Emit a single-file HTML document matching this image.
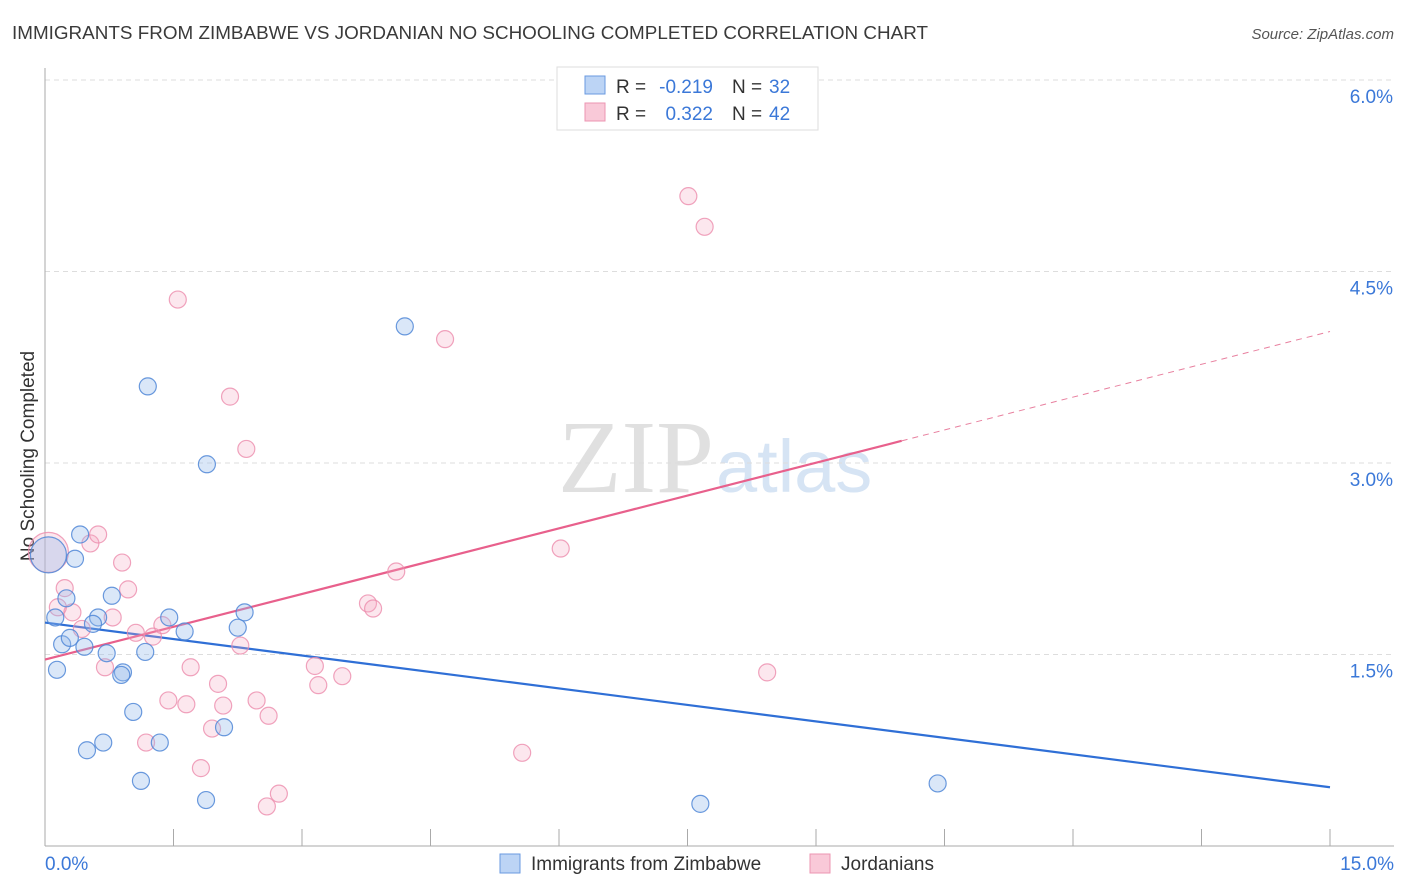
<!DOCTYPE html>
<html><head><meta charset="utf-8"><style>
body{margin:0;background:#fff;font-family:"Liberation Sans",sans-serif}
svg{display:block}
</style></head><body>
<svg id="chart" width="1406" height="892">
<text x="12" y="39" font-size="18" fill="#3a3a3a" textLength="916" lengthAdjust="spacingAndGlyphs">IMMIGRANTS FROM ZIMBABWE VS JORDANIAN NO SCHOOLING COMPLETED CORRELATION CHART</text>
<text x="1394" y="39" font-size="15" fill="#555" text-anchor="end" font-style="italic">Source: ZipAtlas.com</text>
<text x="714" y="492" font-size="104" fill="#e0e0e0" text-anchor="end" font-family="Liberation Serif">ZIP</text>
<text x="716" y="492" font-size="74" fill="#d6e4f4">atlas</text>
<text transform="translate(34,456) rotate(-90)" font-size="19" fill="#333" text-anchor="middle">No Schooling Completed</text>
<g id="grid"></g><g id="axes"></g><g id="lines"></g><g id="pts"></g>
<g>
<rect x="557" y="67" width="261" height="63" fill="#fff" stroke="#ddd"/>
<rect x="585" y="76" width="20" height="18" fill="#bcd4f5" stroke="#6a9ae0"/>
<rect x="585" y="103" width="20" height="18" fill="#f9c9d8" stroke="#ec95b2"/>
<text x="616" y="93" font-size="19" fill="#333">R =</text>
<text x="713" y="93" font-size="19" fill="#3b78d8" text-anchor="end">-0.219</text>
<text x="732" y="93" font-size="19" fill="#333">N =</text>
<text x="769" y="93" font-size="19" fill="#3b78d8">32</text>
<text x="616" y="120" font-size="19" fill="#333">R =</text>
<text x="713" y="120" font-size="19" fill="#3b78d8" text-anchor="end">0.322</text>
<text x="732" y="120" font-size="19" fill="#333">N =</text>
<text x="769" y="120" font-size="19" fill="#3b78d8">42</text>
</g>
<g>
<rect x="500" y="854" width="20" height="19" fill="#bcd4f5" stroke="#6a9ae0"/>
<text x="531" y="870" font-size="19" fill="#333">Immigrants from Zimbabwe</text>
<rect x="810" y="854" width="20" height="19" fill="#f9c9d8" stroke="#ec95b2"/>
<text x="841" y="870" font-size="19" fill="#333">Jordanians</text>
</g>
</svg>
<script>
const yTicks=[1.5,3.0,4.5,6.0];
const xTickLabels=["0.0%","15.0%"];
const blueX=[0.04,0.41,0.35,0.25,0.12,0.62,0.56,0.78,0.20,0.29,0.46,0.14,0.72,0.91,0.89,1.17,1.45,1.63,2.33,2.25,1.03,0.68,0.49,1.34,2.09,1.12,1.88,1.20,1.89,4.20,7.65,10.42];
const blueY=[2.28,2.44,2.25,1.94,1.79,1.79,1.74,1.96,1.58,1.63,1.56,1.38,1.51,1.36,1.34,1.52,1.79,1.68,1.83,1.71,1.05,0.81,0.75,0.81,0.93,0.51,0.36,3.60,2.99,4.07,0.33,0.49];
const pinkX=[0.04,0.53,0.62,0.90,0.23,0.97,0.32,0.15,0.79,0.43,1.06,1.26,1.37,0.70,1.70,1.44,1.65,2.02,2.08,1.95,2.28,2.47,2.61,1.18,1.82,2.73,2.59,1.55,2.16,2.35,3.15,3.19,3.47,3.77,3.83,4.10,4.67,6.02,5.57,8.43,7.51,7.70];
const pinkY=[2.30,2.37,2.44,2.22,2.02,2.01,1.83,1.87,1.79,1.70,1.67,1.64,1.73,1.40,1.40,1.14,1.11,1.27,1.10,0.92,1.57,1.14,1.02,0.81,0.61,0.41,0.31,4.28,3.52,3.11,1.41,1.26,1.33,1.90,1.86,2.15,3.97,2.33,0.73,1.36,5.09,4.85];
const blueTrend=[1.75,0.46];
const pinkTrend=[1.46,4.03];
const pinkSolidEnd=10.0;
const X0=45,X1=1330,Y0=846,PPU=127.67;
const sx=v=>X0+(X1-X0)*v/15, sy=v=>Y0-v*PPU;
const NS="http://www.w3.org/2000/svg";
function mk(t,a,p){const e=document.createElementNS(NS,t);for(const k in a)e.setAttribute(k,a[k]);document.getElementById(p).appendChild(e);return e;}
yTicks.forEach(t=>{
 const l=mk('line',{x1:X0,x2:1394,y1:sy(t),y2:sy(t),stroke:'#ddd','stroke-dasharray':'5,4'},'grid');
 
 
 const tx=mk('text',{x:1393,y:sy(t)+23,'font-size':19,fill:'#3b78d8','text-anchor':'end'},'grid');
 tx.textContent=t.toFixed(1)+'%';
 
 
});
const ax=mk('line',{x1:X0,x2:X0,y1:68,y2:Y0,stroke:'#aaa'},'axes');


const bx=mk('line',{x1:X0,x2:1394,y1:Y0,y2:Y0,stroke:'#aaa'},'axes');


for(let i=0;i<=10;i++){
 const t=mk('line',{x1:sx(i*1.5),x2:sx(i*1.5),y1:829,y2:Y0,stroke:'#aaa'},'axes');
 
 
}
[[0,'start',45],[15,'end',1394]].forEach((d,i)=>{
 const t=mk('text',{x:d[2],y:870,'font-size':19,fill:'#3b78d8','text-anchor':d[1]},'axes');
 t.textContent=xTickLabels[i];
 
 
});
function pt(x,y,r,fill,stroke,name){
 const c=mk('circle',{cx:sx(x),cy:sy(y),r:r,fill:fill,stroke:stroke,'stroke-width':1.2},'pts');
 
 
}
pinkX.forEach((x,i)=>pt(x,pinkY[i],i===0?20:8.5,'rgba(246,170,195,0.28)','rgba(236,140,172,0.8)','jordanian-point'));
blueX.forEach((x,i)=>pt(x,blueY[i],i===0?18:8.5,'rgba(150,185,235,0.35)','rgba(80,135,215,0.85)','zimbabwe-point'));
const bl=mk('line',{x1:sx(0),y1:sy(blueTrend[0]),x2:sx(15),y2:sy(blueTrend[1]),stroke:'#2f6fd6','stroke-width':2.2},'lines');


const pm=pinkTrend[0]+(pinkTrend[1]-pinkTrend[0])*pinkSolidEnd/15;
const pl=mk('line',{x1:sx(0),y1:sy(pinkTrend[0]),x2:sx(pinkSolidEnd),y2:sy(pm),stroke:'#e8608c','stroke-width':2.2},'lines');


const pd=mk('line',{x1:sx(pinkSolidEnd),y1:sy(pm),x2:sx(15),y2:sy(pinkTrend[1]),stroke:'#e8809f','stroke-width':1,'stroke-dasharray':'6,5'},'lines');


</script>
</body></html>
